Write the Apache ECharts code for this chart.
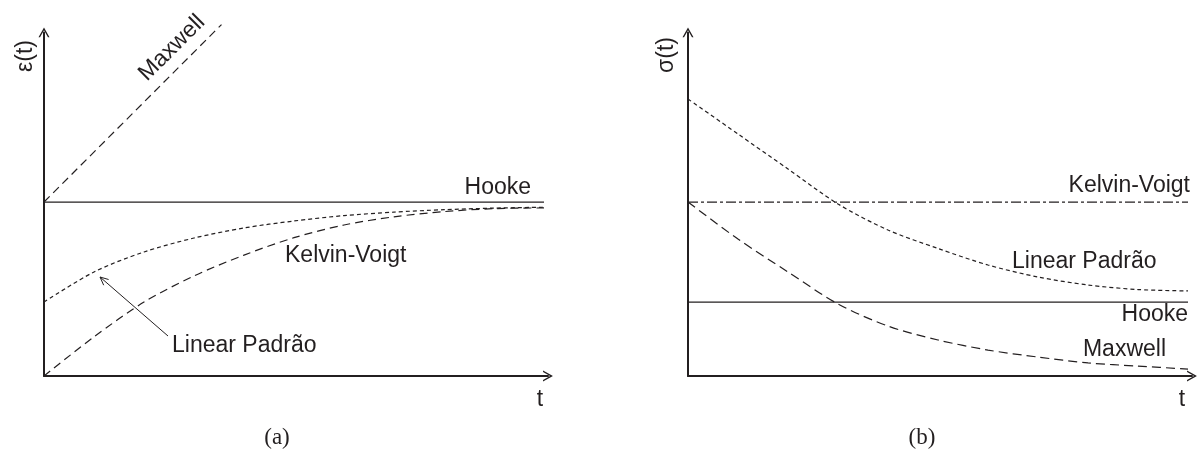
<!DOCTYPE html>
<html>
<head>
<meta charset="utf-8">
<script src="https://cdn.jsdelivr.net/npm/echarts@6/dist/echarts.min.js"></script>
<style>
  html, body { margin: 0; padding: 0; background: #fff; }
  #chart { width: 1197px; height: 453px; }
</style>
</head>
<body>
<div id="chart"></div>
<script>
// Time samples shared by the curves of both panels
const tSamples = [0, 1, 2, 3, 4, 5, 6, 7, 8, 9, 10];

// (a) creep: strain response to a constant stress
const creepHookeT = [0, 10];
const creepHooke = [1, 1];
const creepMaxwellT = [0, 3.55];
const creepMaxwell = [1, 2.02];
const creepKelvin = [0, 0.225, 0.425, 0.575, 0.695, 0.795, 0.868, 0.915, 0.945, 0.962, 0.966];
const creepLinear = [0.425, 0.598, 0.713, 0.793, 0.851, 0.891, 0.922, 0.942, 0.956, 0.965, 0.970];

// (b) relaxation: stress response to a constant strain
const relaxFlatT = [0, 10];
const relaxKelvin = [1, 1];
const relaxHooke = [0.425, 0.425];
const relaxLinear = [1.592, 1.391, 1.190, 0.989, 0.839, 0.733, 0.638, 0.569, 0.523, 0.497, 0.489];
const relaxMaxwell = [1.0, 0.787, 0.598, 0.414, 0.287, 0.207, 0.149, 0.109, 0.075, 0.057, 0.040];

// Axis names and panel captions
const axisNames = { a: ['t', 'ε(t)'], b: ['t', 'σ(t)'] };
const captions = ['(a)', '(b)'];

const ink = '#231f20';
const sans = "'Liberation Sans', Arial, sans-serif";
const serif = "'Liberation Serif', 'DejaVu Serif', serif";
const fs = 23;

const pairs = (xs, ys) => xs.map((x, i) => [x, ys[i]]);

// open chevron used as the axis arrow head (points up before rotation)
const chevron = 'path://M5,0 L10,9 L8.6,9 L5,2.6 L1.4,9 L0,9 Z';

function xAxisFor(gridIndex) {
  return {
    type: 'value', gridIndex, min: 0, max: 10.08,
    axisLine: { onZero: false, lineStyle: { color: ink, width: 2 }, symbol: ['none', chevron], symbolSize: [11, 10] },
    axisTick: { show: false }, axisLabel: { show: false }, splitLine: { show: false }
  };
}
function yAxisFor(gridIndex) {
  return {
    type: 'value', gridIndex, min: 0, max: 1.975,
    axisLine: { onZero: false, lineStyle: { color: ink, width: 2 }, symbol: ['none', chevron], symbolSize: [11, 10] },
    axisTick: { show: false }, axisLabel: { show: false }, splitLine: { show: false }
  };
}
function curve(gridIndex, data, dash, smooth) {
  return {
    type: 'line', xAxisIndex: gridIndex, yAxisIndex: gridIndex,
    data, smooth: smooth ? 0.3 : false, showSymbol: false, clip: false, silent: true,
    lineStyle: { color: ink, width: 1.2, type: dash }
  };
}
function label(text, x, y, align, extra) {
  return Object.assign({
    type: 'text', x, y,
    style: { text, fill: ink, font: fs + 'px ' + sans, align: align || 'left', verticalAlign: 'middle' }
  }, extra || {});
}
function caption(text, x, y) {
  return {
    type: 'text', x, y,
    style: { text, fill: ink, font: '23px ' + serif, align: 'center', verticalAlign: 'middle' }
  };
}

const chart = echarts.init(document.getElementById('chart'), null, { renderer: 'canvas' });
chart.setOption({
  animation: false,
  backgroundColor: '#fff',
  grid: [
    { left: 44, top: 32.4, width: 504, height: 343.6 },
    { left: 688, top: 32.4, width: 504, height: 343.6 }
  ],
  xAxis: [xAxisFor(0), xAxisFor(1)],
  yAxis: [yAxisFor(0), yAxisFor(1)],
  series: [
    // (a)
    curve(0, pairs(creepHookeT, creepHooke), 'solid', false),
    curve(0, pairs(creepMaxwellT, creepMaxwell), [8, 5], false),
    curve(0, pairs(tSamples, creepKelvin), [8, 5], true),
    curve(0, pairs(tSamples, creepLinear), [4, 3], true),
    // (b)
    curve(1, pairs(relaxFlatT, relaxKelvin), [10, 3, 3, 3], false),
    curve(1, pairs(relaxFlatT, relaxHooke), 'solid', false),
    curve(1, pairs(tSamples, relaxLinear), [4, 3], true),
    curve(1, pairs(tSamples, relaxMaxwell), [9, 5], true)
  ],
  graphic: [
    // (a) labels
    label(axisNames.a[1], 26, 56, 'center', { rotation: Math.PI / 2 }),
    label(axisNames.a[0], 540, 400, 'center'),
    label('Maxwell', 172, 48, 'center', { rotation: Math.PI / 4 }),
    label('Hooke', 531, 188, 'right'),
    label('Kelvin-Voigt', 285, 256, 'left'),
    label('Linear Padrão', 172, 346, 'left'),
    {
      type: 'line', shape: { x1: 168, y1: 336, x2: 100, y2: 277 },
      style: { stroke: ink, lineWidth: 1 }
    },
    {
      type: 'polyline', shape: { points: [[103.7, 285.2], [100, 277], [108.6, 279.5]] },
      style: { stroke: ink, lineWidth: 1, fill: null }
    },
    // (b) labels
    label(axisNames.b[1], 667, 55, 'center', { rotation: Math.PI / 2 }),
    label(axisNames.b[0], 1182, 400, 'center'),
    label('Kelvin-Voigt', 1190, 186, 'right'),
    label('Linear Padrão', 1012, 262, 'left'),
    label('Hooke', 1188, 315, 'right'),
    label('Maxwell', 1166, 350, 'right'),
    // captions
    caption(captions[0], 277, 438),
    caption(captions[1], 922, 438)
  ]
});
</script>
</body>
</html>
